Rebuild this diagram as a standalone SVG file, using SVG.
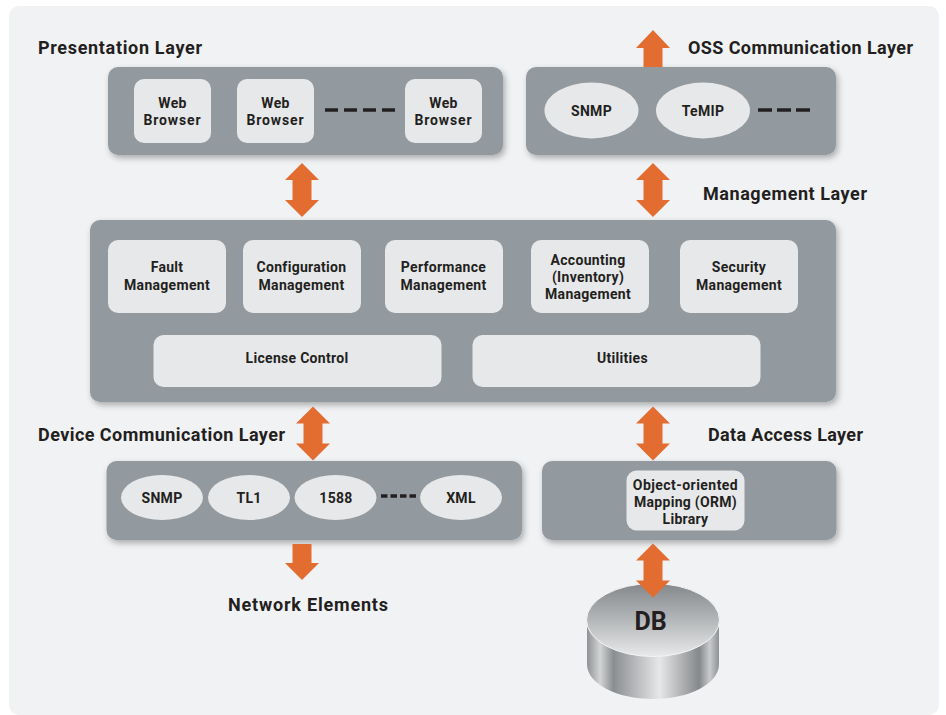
<svg xmlns="http://www.w3.org/2000/svg" width="946" height="715" viewBox="0 0 946 715">
<defs>
<style>
text{font-family:"Roboto","Liberation Sans",sans-serif;font-weight:700;fill:#231f20;text-anchor:middle}
.h{font-size:18px;text-anchor:start}
.t{font-size:14px;letter-spacing:.3px}
.b{letter-spacing:.85px}
.panel{fill:#939a9f;filter:url(#sh)}
.box{fill:#e7e8ea}
.arr{fill:#e36c30}
.dash{stroke:#231f20;stroke-width:3.5;fill:none}
</style>
<filter id="sh" x="-5%" y="-15%" width="110%" height="130%"><feDropShadow dx="2" dy="3" stdDeviation="3" flood-color="#000" flood-opacity=".3"/></filter>
<linearGradient id="dbtop" x1="0" y1="0" x2="0" y2="1"><stop offset="0" stop-color="#84888b"/><stop offset=".5" stop-color="#b4b7b9"/><stop offset="1" stop-color="#e8e9ea"/></linearGradient>
<linearGradient id="dbside" x1="0" y1="0" x2="1" y2="0"><stop offset="0" stop-color="#8f9295"/><stop offset=".1" stop-color="#d2d4d5"/><stop offset=".2" stop-color="#8b8e91"/><stop offset=".55" stop-color="#e6e7e8"/><stop offset=".85" stop-color="#85888b"/><stop offset=".93" stop-color="#c8cacc"/><stop offset="1" stop-color="#8f9295"/></linearGradient>
<path id="dbl" d="M0,-27 17,-10 9.500,-10 9.500,10 17,10 0,27 -17,10 -9.500,10 -9.500,-10 -17,-10Z"/>
</defs>
<rect width="946" height="715" fill="#fff"/>
<rect x="9" y="6" width="930" height="709" rx="10" fill="#f1f2f4"/>

<g id="labels">
<text class="h" x="38" y="54" textLength="164">Presentation Layer</text>
<text class="h" x="688" y="54" textLength="225">OSS Communication Layer</text>
<text class="h" x="703" y="200" textLength="164">Management Layer</text>
<text class="h" x="38" y="441" textLength="247">Device Communication Layer</text>
<text class="h" x="708" y="441" textLength="155">Data Access Layer</text>
<text class="h" x="228" y="611" textLength="160">Network Elements</text>
</g>

<g id="presentation-layer">
<rect class="panel" x="108" y="67" width="395" height="88" rx="10"/>
<rect class="box" x="134" y="79" width="77" height="64" rx="10"/>
<text class="t" x="172.500" y="108">Web</text><text class="t b" x="172.500" y="125">Browser</text>
<rect class="box" x="237" y="79" width="77" height="64" rx="10"/>
<text class="t" x="275.500" y="108">Web</text><text class="t b" x="275.500" y="125">Browser</text>
<line class="dash" x1="325" y1="110" x2="395" y2="110" stroke-dasharray="13 6"/>
<rect class="box" x="405" y="79" width="77" height="64" rx="10"/>
<text class="t" x="443.500" y="108">Web</text><text class="t b" x="443.500" y="125">Browser</text>
</g>

<g id="oss-layer">
<rect class="panel" x="526" y="67" width="310" height="88" rx="10"/>
<ellipse class="box" cx="591.500" cy="110.500" rx="47" ry="28"/>
<text class="t" x="591.500" y="116">SNMP</text>
<ellipse class="box" cx="703" cy="110.500" rx="47" ry="28"/>
<text class="t" x="703" y="116">TeMIP</text>
<line class="dash" x1="758" y1="110" x2="810" y2="110" stroke-dasharray="14 5"/>
</g>

<g id="management-layer">
<rect class="panel" x="90" y="220" width="746" height="182" rx="10"/>
<rect class="box" x="108" y="240" width="118" height="73" rx="10"/>
<text class="t" x="167" y="272">Fault</text><text class="t" x="167" y="290">Management</text>
<rect class="box" x="243" y="240" width="118" height="73" rx="10"/>
<text class="t" x="301.500" y="272">Configuration</text><text class="t" x="301.500" y="290">Management</text>
<rect class="box" x="385" y="240" width="118" height="73" rx="10"/>
<text class="t" x="443.500" y="272">Performance</text><text class="t" x="443.500" y="290">Management</text>
<rect class="box" x="531" y="240" width="118" height="73" rx="10"/>
<text class="t" x="588" y="265">Accounting</text><text class="t" x="588" y="282">(Inventory)</text><text class="t" x="588" y="299">Management</text>
<rect class="box" x="680" y="240" width="118" height="73" rx="10"/>
<text class="t" x="739" y="272">Security</text><text class="t" x="739" y="290">Management</text>
<rect class="box" x="153.500" y="335" width="288" height="52" rx="10"/>
<text class="t" x="297" y="363">License Control</text>
<rect class="box" x="472.500" y="335" width="288" height="52" rx="10"/>
<text class="t" x="622.500" y="363">Utilities</text>
</g>

<g id="device-layer">
<rect class="panel" x="106.500" y="461" width="415.500" height="79" rx="10"/>
<ellipse class="box" cx="162" cy="497.500" rx="41" ry="22.500"/>
<text class="t" x="162" y="503">SNMP</text>
<ellipse class="box" cx="249" cy="497.500" rx="41" ry="22.500"/>
<text class="t" x="249" y="503">TL1</text>
<ellipse class="box" cx="335.500" cy="497.500" rx="41" ry="22.500"/>
<text class="t" x="336" y="503">1588</text>
<line class="dash" x1="381" y1="496" x2="416" y2="496" stroke-dasharray="6.500 3"/>
<ellipse class="box" cx="461" cy="497.500" rx="41" ry="22.500"/>
<text class="t" x="461" y="503">XML</text>
</g>

<g id="data-access-layer">
<rect class="panel" x="542" y="461" width="294.500" height="79" rx="10"/>
<rect class="box" x="626.500" y="470.500" width="118" height="60" rx="10"/>
<text class="t" x="685.500" y="490" style="letter-spacing:.45px">Object-oriented</text><text class="t" x="685.500" y="507">Mapping (ORM)</text><text class="t" x="685.500" y="524">Library</text>
</g>

<g id="db">
<path d="M587,620V664C587,684 617,699 653,699S719,684 719,664V620Z" fill="url(#dbside)"/>
<ellipse cx="653" cy="620" rx="66.500" ry="36.500" fill="url(#dbtop)" stroke="#f4f4f5" stroke-width="1"/>
<text x="650.500" y="630" style="font-size:25px">DB</text>
</g>

<g id="connectors">
<use href="#dbl" class="arr" x="302" y="190"/>
<use href="#dbl" class="arr" x="653" y="190"/>
<use href="#dbl" class="arr" x="313" y="433.500"/>
<use href="#dbl" class="arr" x="653" y="433.500"/>
<use href="#dbl" class="arr" x="653" y="570.500"/>
<path class="arr" d="M653,30 670,48 662.500,48 662.500,67 643.500,67 643.500,48 636,48Z"/>
<path class="arr" d="M292.500,544 311.500,544 311.500,563 319,563 302,580 285,563 292.500,563Z"/>
</g>
</svg>
